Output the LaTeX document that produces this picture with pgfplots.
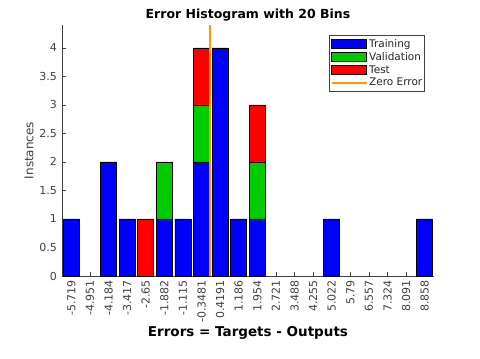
\documentclass[border=0pt]{standalone}
\usepackage{fontspec}
\setmainfont{DejaVu Sans}
\usepackage{pgfplots}
\pgfplotsset{compat=1.18}
\definecolor{trainblue}{RGB}{0,0,255}
\definecolor{valgreen}{RGB}{0,204,0}
\definecolor{testred}{RGB}{255,0,0}
\definecolor{zeroorange}{RGB}{255,153,0}
\definecolor{axgray}{RGB}{64,64,64}

\begin{document}
\begin{tikzpicture}
\useasboundingbox (-62bp,-83bp) rectangle (418bp,276bp);
\pgfplotsset{
  common/.style={scale only axis, width=372bp, height=251bp,
    xmin=0.5, xmax=20.5, ymin=0, ymax=4.4, at={(0,0)}, anchor=south west},
  barleg/.style={legend image code/.code={\draw[##1] (0bp,-4.5bp) rectangle (35bp,4.5bp);}},
  lineleg/.style={legend image code/.code={\draw[##1] (0bp,0bp) -- (35bp,0bp);}},
}
\begin{axis}[
  common,
  ybar stacked,
  bar width=0.86,
  axis lines*=left,
  axis line style={-, axgray, line width=0.5bp},
  tick align=inside,
  major tick length=4bp,
  tick style={axgray, line width=0.5bp},
  xtick={1,...,20},
  xticklabels={-5.719,-4.951,-4.184,-3.417,-2.65,-1.882,-1.115,-0.3481,0.4191,1.186,1.954,2.721,3.488,4.255,5.022,5.79,6.557,7.324,8.091,8.858},
  ytick={0,0.5,...,4},
  /pgf/number format/assume math mode=true,
  ticklabel style={font=\fontsize{11bp}{13bp}\selectfont, text=axgray},
  xticklabel style={rotate=90, anchor=east, inner xsep=4bp, inner ysep=0pt},
  yticklabel style={anchor=east, inner xsep=5bp, inner ysep=0pt},
  title={Error Histogram with 20 Bins},
  title style={at={([yshift=1bp]axis description cs:0.5,1)}, anchor=base,
    font=\bfseries\fontsize{12.5bp}{14bp}\selectfont},
  xlabel={Errors = Targets - Outputs},
  xlabel style={at={([yshift=-60bp]axis description cs:0.5,0)}, anchor=base,
    font=\bfseries\fontsize{13.5bp}{15bp}\selectfont},
  ylabel={Instances},
  ylabel style={at={([xshift=-33bp]axis description cs:0,0.5)}, anchor=center,
    font=\fontsize{12bp}{14bp}\selectfont, text=axgray},
  legend style={at={(0.976,0.96)}, anchor=north east, draw=axgray, line width=0.6bp,
    font=\fontsize{10.5bp}{12bp}\selectfont, inner xsep=1bp, inner ysep=2.5bp,
    row sep=0.6bp, nodes={inner sep=1.5bp, text=black!85}},
  legend cell align=left,
]
% Training
\addplot[fill=trainblue, draw=black, line width=0.6bp, barleg] coordinates {
  (1,1) (3,2) (4,1) (5,0) (6,1) (7,1) (8,2) (9,4) (10,1) (11,1) (15,1) (20,1)
};
% Validation
\addplot[fill=valgreen, draw=black, line width=0.6bp, barleg] coordinates {
  (1,0) (3,0) (4,0) (5,0) (6,1) (7,0) (8,1) (9,0) (10,0) (11,1) (15,0) (20,0)
};
% Test
\addplot[fill=testred, draw=black, line width=0.6bp, barleg] coordinates {
  (1,0) (3,0) (4,0) (5,1) (6,0) (7,0) (8,1) (9,0) (10,0) (11,1) (15,0) (20,0)
};
\addlegendimage{zeroorange, line width=2bp, lineleg}
\legend{Training, Validation, Test, Zero Error}
\end{axis}
\begin{axis}[common, hide axis]
% zero error line (0 lies between bins -0.3481 and 0.4191)
\addplot[zeroorange, line width=2bp] coordinates {(8.4543,0) (8.4543,4.4)};
\end{axis}
\end{tikzpicture}
\end{document}
